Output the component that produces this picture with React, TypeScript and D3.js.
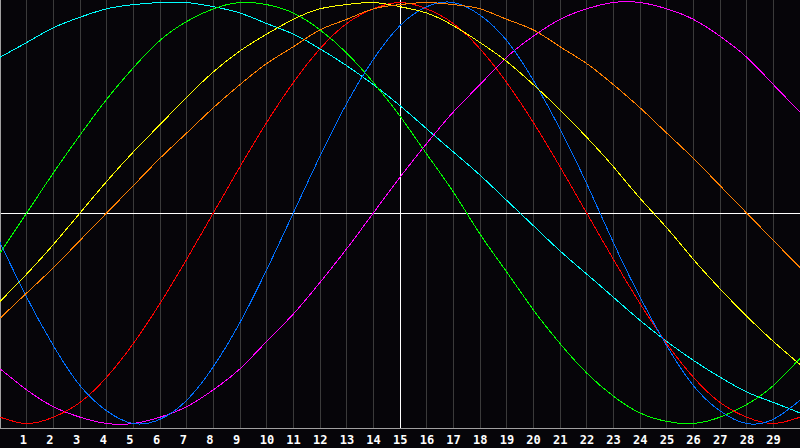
import { useEffect, useRef } from "react";
import * as d3 from "d3";

// day index along the x axis (0..30)
const days = [
  0, 1, 2, 3, 4, 5, 6, 7, 8, 9, 10, 11, 12, 13, 14, 15, 16, 17, 18, 19, 20,
  21, 22, 23, 24, 25, 26, 27, 28, 29, 30,
];

const dayLabels = [
  1, 2, 3, 4, 5, 6, 7, 8, 9, 10, 11, 12, 13, 14, 15, 16, 17, 18, 19, 20, 21,
  22, 23, 24, 25, 26, 27, 28, 29,
];

// values in percent, read per day
const physical = [
  -14, -40, -63, -82, -94, -100, -98, -89, -73, -52, -27, 0, 27, 52, 73, 89,
  98, 100, 94, 82, 63, 40, 14, -14, -40, -63, -82, -94, -100, -98, -89,
];
const emotional = [
  -97, -100, -97, -90, -78, -62, -43, -22, 0, 22, 43, 62, 78, 90, 97, 100, 97,
  90, 78, 62, 43, 22, 0, -22, -43, -62, -78, -90, -97, -100, -97,
];
const intellectual = [
  -19, 0, 19, 37, 54, 69, 82, 91, 97, 100, 99, 95, 87, 76, 62, 46, 28, 10,
  -10, -28, -46, -62, -76, -87, -95, -99, -100, -97, -91, -82, -69,
];
const intuitive = [
  -74, -84, -92, -97, -100, -100, -97, -92, -84, -74, -61, -48, -33, -17, 0,
  17, 33, 48, 61, 74, 84, 92, 97, 100, 100, 97, 92, 84, 74, 61, 48,
];
const aesthetic = [
  -42, -29, -15, 0, 15, 29, 42, 55, 67, 77, 85, 92, 97, 99, 100, 98, 95, 89,
  81, 72, 61, 49, 36, 22, 7, -7, -22, -36, -49, -61, -72,
];
const awareness = [
  -50, -38, -26, -13, 0, 13, 26, 38, 50, 61, 71, 79, 87, 92, 97, 99, 100, 99,
  97, 92, 87, 79, 71, 61, 50, 38, 26, 13, 0, -13, -26,
];
const spiritual = [
  74, 81, 88, 93, 97, 99, 100, 100, 98, 95, 90, 85, 78, 70, 61, 51, 40, 29,
  18, 6, -6, -18, -29, -40, -51, -61, -70, -78, -85, -90, -95,
];

const series = [
  { name: "Spiritual", values: spiritual, color: "#00ffff" },
  { name: "Intellectual", values: intellectual, color: "#00ff00" },
  { name: "Intuitive", values: intuitive, color: "#ff00ff" },
  { name: "Emotional", values: emotional, color: "#ff0000" },
  { name: "Physical", values: physical, color: "#0070ff" },
  { name: "Aesthetic", values: aesthetic, color: "#ffff00" },
  { name: "Awareness", values: awareness, color: "#ff8000" },
];

const width = 800;
const height = 448;
const plotBottom = 428;

const BiorhythmChart = () => {
  const svgRef = useRef<SVGSVGElement>(null);

  useEffect(() => {
    if (!svgRef.current) return;

    const svg = d3
      .select(svgRef.current)
      .attr("width", width)
      .attr("height", height);

    svg.selectAll("*").remove();

    svg
      .append("rect")
      .attr("width", width)
      .attr("height", height)
      .attr("fill", "#060509");

    const x = d3.scaleLinear().domain([0, 30]).range([0, width]);
    const y = d3.scaleLinear().domain([-100, 100]).range([423.5, 2.5]);

    // vertical day grid
    svg
      .append("g")
      .selectAll("line")
      .data(dayLabels)
      .join("line")
      .attr("x1", (d) => Math.floor(x(d)) + 0.5)
      .attr("x2", (d) => Math.floor(x(d)) + 0.5)
      .attr("y1", 0)
      .attr("y2", plotBottom)
      .attr("stroke", (d) => (d === 15 ? "#ffffff" : "#3a3a3a"))
      .attr("stroke-width", 1)
      .attr("shape-rendering", "crispEdges");

    // zero line
    svg
      .append("line")
      .attr("x1", 0)
      .attr("x2", width)
      .attr("y1", Math.round(y(0)) + 0.5)
      .attr("y2", Math.round(y(0)) + 0.5)
      .attr("stroke", "#ffffff")
      .attr("shape-rendering", "crispEdges");

    // frame: left edge and bottom axis
    svg
      .append("line")
      .attr("x1", 0.5)
      .attr("x2", 0.5)
      .attr("y1", 0)
      .attr("y2", plotBottom)
      .attr("stroke", "#a0a0a0")
      .attr("shape-rendering", "crispEdges");
    svg
      .append("line")
      .attr("x1", 0)
      .attr("x2", width)
      .attr("y1", plotBottom + 0.5)
      .attr("y2", plotBottom + 0.5)
      .attr("stroke", "#a0a0a0")
      .attr("shape-rendering", "crispEdges");

    const line = d3
      .line<number>()
      .x((_, i) => x(days[i]))
      .y((v) => y(v))
      .curve(d3.curveNatural);

    svg
      .append("g")
      .selectAll("path")
      .data(series)
      .join("path")
      .attr("d", (s) => line(s.values))
      .attr("fill", "none")
      .attr("stroke", (s) => s.color)
      .attr("stroke-width", 1)
      .attr("shape-rendering", "crispEdges");

    // day labels
    svg
      .append("g")
      .selectAll("text")
      .data(dayLabels)
      .join("text")
      .attr("x", (d) => x(d) - 7)
      .attr("y", 443.5)
      .attr("fill", "#ffffff")
      .style("font-family", "'DejaVu Sans Mono', monospace")
      .style("font-weight", "bold")
      .style("font-size", "12px")
      .text((d) => String(d));
  }, []);

  return <svg ref={svgRef} style={{ display: "block" }} />;
};

export default function App() {
  useEffect(() => {
    document.body.style.margin = "0";
    document.body.style.background = "#060509";
  }, []);
  return (
    <div style={{ position: "fixed", left: 0, top: 0 }}>
      <BiorhythmChart />
    </div>
  );
}
